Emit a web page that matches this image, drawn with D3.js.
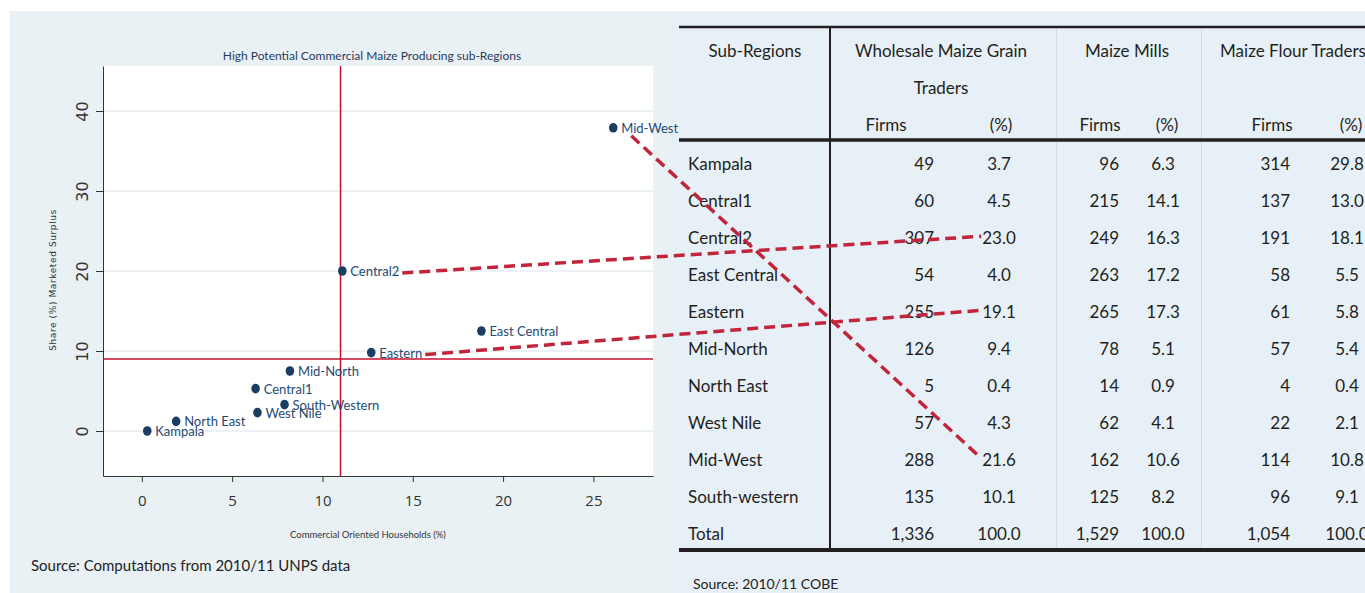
<!DOCTYPE html>
<html>
<head>
<meta charset="utf-8">
<script src="https://cdn.jsdelivr.net/npm/d3@7"></script>
<style>
  body { margin: 0; background: #fff; }
  svg { display: block; font-family: Lato, "Open Sans", sans-serif; }
</style>
</head>
<body>
<div id="chart"></div>
<script>
// ---- scatter: sub-regions
const regions = ["Mid-West", "Central2", "East Central", "Eastern", "Mid-North", "Central1", "South-Western", "West Nile", "North East", "Kampala"];
const commercialHH = [26.1, 11.1, 18.8, 12.7, 8.2, 6.3, 7.9, 6.4, 1.9, 0.3];
const marketedShare = [37.9, 20.0, 12.5, 9.8, 7.5, 5.3, 3.3, 2.3, 1.2, 0.0];
const xTicks = [0, 5, 10, 15, 20, 25];
const yTicks = [0, 10, 20, 30, 40];
const refX = 11;   // vertical red cut-off
const refY = 9;    // horizontal red cut-off

// ---- table: firms by sub-region
const tableRegions = ["Kampala", "Central1", "Central2", "East Central", "Eastern", "Mid-North", "North East", "West Nile", "Mid-West", "South-western", "Total"];
const wholesaleFirms = [49, 60, 307, 54, 255, 126, 5, 57, 288, 135, 1336];
const wholesalePct = [3.7, 4.5, 23.0, 4.0, 19.1, 9.4, 0.4, 4.3, 21.6, 10.1, 100.0];
const millsFirms = [96, 215, 249, 263, 265, 78, 14, 62, 162, 125, 1529];
const millsPct = [6.3, 14.1, 16.3, 17.2, 17.3, 5.1, 0.9, 4.1, 10.6, 8.2, 100.0];
const flourFirms = [314, 137, 191, 58, 61, 57, 4, 22, 114, 96, 1054];
const flourPct = [29.8, 13.0, 18.1, 5.5, 5.8, 5.4, 0.4, 2.1, 10.8, 9.1, 100.0];
const groupHeaders = [["Wholesale Maize Grain", "Traders"], ["Maize Mills"], ["Maize Flour Traders"]];

// regions whose scatter label is tied to its wholesale % cell
const linkedRegions = ["Mid-West", "Central2", "Eastern"];

const W = 1365, H = 593;
const navy = "#1b3d63", red = "#c8102e", ink = "#231f20";

const svg = d3.select("#chart").append("svg")
  .attr("width", W)
  .attr("height", H);

// panel backgrounds
svg.append("rect").attr("x", 10).attr("y", 11).attr("width", W - 10).attr("height", H - 11).attr("fill", "#e9f1f5");
svg.append("rect").attr("x", 670).attr("y", 11).attr("width", W - 670).attr("height", H - 11).attr("fill", "#e7f0f6");

// ================= scatter =================
const plot = {left: 103, right: 653, top: 66, bottom: 476};
const x = d3.scaleLinear().domain([-2.15, 28.3]).range([plot.left, plot.right]);
const y = d3.scaleLinear().domain([-5.625, 45.625]).range([plot.bottom, plot.top]);

svg.append("rect")
  .attr("x", plot.left).attr("y", plot.top)
  .attr("width", plot.right - plot.left).attr("height", plot.bottom - plot.top)
  .attr("fill", "#fff");

// grid lines
svg.append("g").selectAll("line")
  .data(yTicks)
  .join("line")
  .attr("x1", plot.left).attr("x2", plot.right)
  .attr("y1", d => y(d)).attr("y2", d => y(d))
  .attr("stroke", "#e4edf2")
  .attr("stroke-width", 1.5);

// axes
const gx = svg.append("g")
  .attr("transform", "translate(0," + plot.bottom + ")")
  .call(d3.axisBottom(x).tickValues(xTicks).tickSize(6).tickSizeOuter(0));
gx.selectAll(".domain, .tick line").attr("stroke", "#333");
gx.selectAll(".tick text")
  .attr("y", 19)
  .attr("font-family", "'Liberation Sans Narrow', 'Open Sans', sans-serif")
  .attr("font-size", 15)
  .attr("fill", "#333");

const gy = svg.append("g")
  .attr("transform", "translate(" + plot.left + ",0)")
  .call(d3.axisLeft(y).tickValues(yTicks).tickSize(7).tickSizeOuter(0));
gy.selectAll(".domain, .tick line").attr("stroke", "#333");
gy.selectAll(".tick text")
  .attr("x", 0).attr("y", -15).attr("dy", 0)
  .attr("transform", "rotate(-90)")
  .attr("text-anchor", "middle")
  .attr("font-family", "'DejaVu Sans', sans-serif")
  .attr("font-size", 16)
  .attr("fill", "#333");

// red cut-off lines
svg.append("line")
  .attr("x1", x(refX)).attr("x2", x(refX))
  .attr("y1", plot.top).attr("y2", plot.bottom)
  .attr("stroke", red).attr("stroke-width", 1.5);
svg.append("line")
  .attr("x1", plot.left).attr("x2", plot.right)
  .attr("y1", y(refY)).attr("y2", y(refY))
  .attr("stroke", red).attr("stroke-width", 1.5);

// dots + labels
const pts = regions.map((r, i) => ({name: r, x: commercialHH[i], y: marketedShare[i]}));
svg.append("g").selectAll("ellipse")
  .data(pts)
  .join("ellipse")
  .attr("cx", d => x(d.x))
  .attr("cy", d => y(d.y))
  .attr("rx", 4.3)
  .attr("ry", 4.8)
  .attr("fill", navy);

const ptLabels = svg.append("g").selectAll("text")
  .data(pts)
  .join("text")
  .attr("x", d => x(d.x) + 8)
  .attr("y", d => y(d.y) + 5)
  .attr("font-size", 13)
  .attr("fill", "#1f4b75")
  .text(d => d.name);

// titles
svg.append("text")
  .attr("x", 372).attr("y", 60)
  .attr("text-anchor", "middle")
  .attr("font-size", 12)
  .attr("fill", "#2a3a5c")
  .text("High Potential Commercial Maize Producing sub-Regions");
svg.append("text")
  .attr("x", 368).attr("y", 538)
  .attr("text-anchor", "middle")
  .attr("font-size", 9.5)
  .attr("fill", "#333")
  .text("Commercial Oriented Households (%)");
svg.append("text")
  .attr("transform", "translate(56,280) rotate(-90)")
  .attr("text-anchor", "middle")
  .attr("font-family", "'DejaVu Sans', sans-serif")
  .attr("font-size", 9)
  .attr("letter-spacing", 0.6)
  .attr("fill", "#333")
  .text("Share (%) Marketed Surplus");
svg.append("text")
  .attr("x", 31).attr("y", 571)
  .attr("font-size", 15)
  .attr("fill", "#222")
  .text("Source: Computations from 2010/11 UNPS data");

// ================= table =================
const tbl = {left: 679, right: W, top: 27, headBottom: 140, bottom: 550, split: 830};
const row = d3.scaleBand().domain(tableRegions).range([145.8, 145.8 + 37 * tableRegions.length]);
const rowY = r => row(r) + row.bandwidth() / 2;
const fmtFirms = d3.format(",");
const fmtPct = d3.format(".1f");

// column layout: firms are right-aligned, % centred
const cols = [
  {firms: wholesaleFirms, pct: wholesalePct, head: 941, firmsX: 934, firmsHead: 886, pctX: 999, pctHead: 1001},
  {firms: millsFirms, pct: millsPct, head: 1127, firmsX: 1119, firmsHead: 1100, pctX: 1163, pctHead: 1167},
  {firms: flourFirms, pct: flourPct, head: 1293, firmsX: 1290, firmsHead: 1272, pctX: 1347, pctHead: 1351}
];
const tsize = 17;

// light separators between groups
svg.append("g").selectAll("line")
  .data([1056.5, 1201.5])
  .join("line")
  .attr("x1", d => d).attr("x2", d => d)
  .attr("y1", tbl.top).attr("y2", tbl.bottom)
  .attr("stroke", "#d3dbe0").attr("stroke-width", 1);

svg.append("line")
  .attr("x1", tbl.split).attr("x2", tbl.split)
  .attr("y1", tbl.top).attr("y2", tbl.bottom)
  .attr("stroke", ink).attr("stroke-width", 2);
svg.append("line")
  .attr("x1", tbl.left).attr("x2", tbl.right)
  .attr("y1", tbl.top).attr("y2", tbl.top)
  .attr("stroke", ink).attr("stroke-width", 2.5);
svg.append("line")
  .attr("x1", tbl.left).attr("x2", tbl.right)
  .attr("y1", tbl.headBottom).attr("y2", tbl.headBottom)
  .attr("stroke", ink).attr("stroke-width", 3.5);
svg.append("line")
  .attr("x1", tbl.left).attr("x2", tbl.right)
  .attr("y1", tbl.bottom).attr("y2", tbl.bottom)
  .attr("stroke", ink).attr("stroke-width", 4);

const head = svg.append("g").attr("font-size", tsize).attr("fill", ink).attr("text-anchor", "middle");
head.append("text").attr("x", 755).attr("y", 57).text("Sub-Regions");
cols.forEach((c, k) => {
  groupHeaders[k].forEach((line, li) => {
    head.append("text").attr("x", c.head).attr("y", 57 + li * 37).text(line);
  });
  head.append("text").attr("x", c.firmsHead).attr("y", 131).text("Firms");
  head.append("text").attr("x", c.pctHead).attr("y", 131).text("(%)");
});

const body = svg.append("g").attr("font-size", tsize).attr("fill", ink);
body.selectAll("text.region")
  .data(tableRegions)
  .join("text")
  .attr("class", "region")
  .attr("x", 688)
  .attr("y", d => rowY(d) + 6)
  .text(d => d);

const pctCells = {};
cols.forEach((c, k) => {
  body.append("g").attr("text-anchor", "end").selectAll("text")
    .data(c.firms)
    .join("text")
    .attr("x", c.firmsX)
    .attr("y", (d, i) => rowY(tableRegions[i]) + 6)
    .text(d => fmtFirms(d));
  const p = body.append("g").attr("text-anchor", "middle").selectAll("text")
    .data(c.pct)
    .join("text")
    .attr("x", c.pctX)
    .attr("y", (d, i) => rowY(tableRegions[i]) + 6)
    .text(d => fmtPct(d));
  if (k === 0) p.each(function(d, i) { pctCells[tableRegions[i]] = this; });
});

svg.append("text")
  .attr("x", 693).attr("y", 589)
  .attr("font-size", 14)
  .attr("fill", "#222")
  .text("Source: 2010/11 COBE");

// ================= dashed links: scatter label -> wholesale % =================
const links = linkedRegions.map(name => {
  const lab = ptLabels.filter(d => d.name === name).node().getBBox();
  const pt = pts.find(d => d.name === name);
  const cell = pctCells[name].getBBox();
  const ty = rowY(name) - 2;
  // steep links leave from under the label, flat ones from its end
  const steep = ty - y(pt.y) > 150;
  return {
    x1: steep ? lab.x + 10 : lab.x + lab.width + 3,
    y1: steep ? lab.y + lab.height : y(pt.y) + 2,
    x2: cell.x - 1,
    y2: ty
  };
});
svg.append("g").selectAll("line")
  .data(links)
  .join("line")
  .attr("x1", d => d.x1).attr("y1", d => d.y1)
  .attr("x2", d => d.x2).attr("y2", d => d.y2)
  .attr("stroke", "#c0253c")
  .attr("stroke-width", 3.5)
  .attr("stroke-dasharray", "11,6");
</script>
</body>
</html>
